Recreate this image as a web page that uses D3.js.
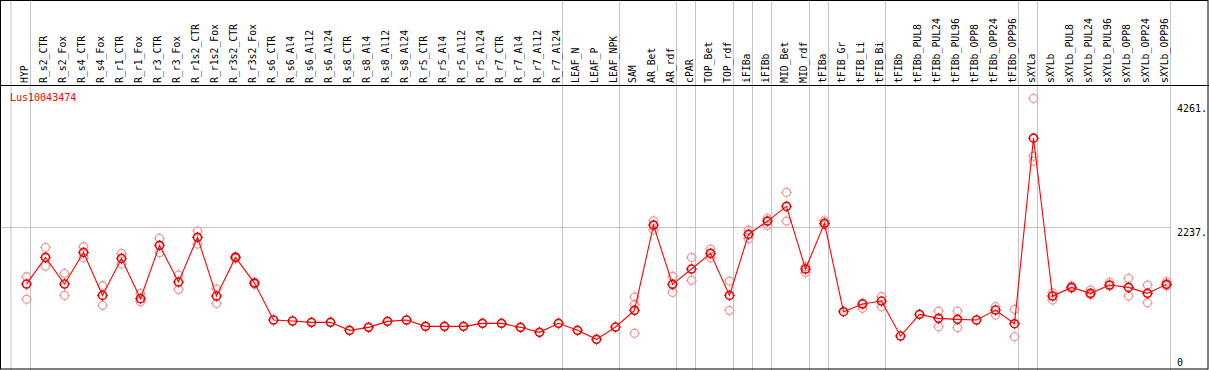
<!DOCTYPE html>
<html><head><meta charset="utf-8">
<script src="https://cdn.jsdelivr.net/npm/d3@7"></script>
<style>html,body{margin:0;padding:0;background:#fff;}svg{display:block;}</style>
</head><body>
<svg id="chart" width="1209" height="370"></svg>
<script>
const categories = ["HYP","R_s2_CTR","R_s2_Fox","R_s4_CTR","R_s4_Fox","R_r1_CTR","R_r1_Fox","R_r3_CTR","R_r3_Fox","R_r1s2_CTR","R_r1s2_Fox","R_r3s2_CTR","R_r3s2_Fox","R_s6_CTR","R_s6_Al4","R_s6_Al12","R_s6_Al24","R_s8_CTR","R_s8_Al4","R_s8_Al12","R_s8_Al24","R_r5_CTR","R_r5_Al4","R_r5_Al12","R_r5_Al24","R_r7_CTR","R_r7_Al4","R_r7_Al12","R_r7_Al24","LEAF_N","LEAF_P","LEAF_NPK","SAM","AR_Bet","AR_rdf","cPAR","TOP_Bet","TOP_rdf","iFIBa","iFIBb","MID_Bet","MID_rdf","tFIBa","tFIB_Gr","tFIB_Li","tFIB_Bi","tFIBb","tFIBb_PUL8","tFIBb_PUL24","tFIBb_PUL96","tFIBb_OPP8","tFIBb_OPP24","tFIBb_OPP96","sXYLa","sXYLb","sXYLb_PUL8","sXYLb_PUL24","sXYLb_PUL96","sXYLb_OPP8","sXYLb_OPP24","sXYLb_OPP96"];
const meanValues = [1331,1764,1331,1845,1147,1748,1093,1959,1364,2089,1136,1764,1347,747,731,709,709,579,628,725,747,644,644,644,693,693,628,547,693,579,433,633,904,2289,1326,1575,1829,1147,2138,2354,2593,1575,2317,882,1006,1055,487,839,774,758,747,909,687,3701,1136,1277,1180,1315,1277,1180,1326];
const rep1 = [1450,1927,1505,1937,1304,1829,1180,2073,1477,2192,1250,1780,1360,null,null,null,null,null,null,null,null,null,null,null,null,null,null,null,null,null,null,null,1120,2359,1456,1764,1899,1380,2208,2398,2820,1612,2359,null,1020,1125,null,null,893,893,null,963,920,4346,1190,1300,1234,1359,1424,1315,1369];
const rep2 = [1083,1623,1147,1758,985,1656,1044,1840,1245,1981,1017,1750,1330,null,null,null,null,null,null,null,null,null,null,null,null,null,null,null,null,null,null,null,1001,2208,1196,1391,1758,904,2067,2284,2354,1521,2290,null,937,963,null,null,638,622,null,828,476,3409,1071,1260,1153,1300,1136,1028,1300];
const rep3 = [null,null,null,null,null,null,null,null,null,null,null,null,null,null,null,null,null,null,null,null,null,null,null,null,null,null,null,null,null,null,null,null,531,null,null,null,null,null,null,null,null,null,null,null,null,null,null,null,null,null,null,null,null,3328,null,null,null,null,null,null,null];
const groupEnds = ["HYP","R_r7_Al24","LEAF_NPK","AR_rdf","cPAR","TOP_rdf","iFIBa","iFIBb","MID_rdf","tFIBa","tFIB_Bi","tFIBb_OPP96","sXYLa","sXYLb_OPP96"];
const tickValues = [4261, 2237, 0];
const tickLabels = ["4261.", "2237.", "0"];
const gridValues = [2237];
const seriesName = "Lus10043474";

const W = 1209, H = 370;
const svg = d3.select("#chart");
const FONT = "'DejaVu Sans Mono', monospace";
const x = d3.scalePoint().domain(categories).range([26.5, 26.5 + 19 * (categories.length - 1)]);
const y = d3.scaleLinear().domain([0, 4261]).range([366, 103.7]);
const headerY = 85.5;
const plotRight = x(categories[categories.length - 1]) + 4;

// horizontal grid
svg.selectAll("line.hgrid").data(gridValues).enter().append("line")
  .attr("x1", 1).attr("x2", plotRight)
  .attr("y1", d => Math.round(y(d)) - 0.5).attr("y2", d => Math.round(y(d)) - 0.5)
  .attr("stroke", "#c4c4c4").attr("stroke-width", 1);

// vertical group lines
const vlines = [x(categories[0]) - 15.5].concat(groupEnds.map(g => x(g) + 4));
svg.selectAll("line.vgrid").data(vlines).enter().append("line")
  .attr("x1", d => d).attr("x2", d => d).attr("y1", 0).attr("y2", H)
  .attr("stroke", "#c4c4c4").attr("stroke-width", 1);

// header line and frame
svg.append("line").attr("x1", 0).attr("x2", W).attr("y1", headerY).attr("y2", headerY)
  .attr("stroke", "#000").attr("stroke-width", 1);
svg.append("rect").attr("x", 0.5).attr("y", 0.5).attr("width", W - 1.5).attr("height", H - 1.5)
  .attr("fill", "none").attr("stroke", "#000").attr("stroke-width", 1);

// column labels
svg.selectAll("text.col").data(categories).enter().append("text")
  .attr("transform", d => `translate(${x(d) + 1},83) rotate(-90)`)
  .attr("font-family", FONT).attr("font-size", "9.8px").attr("fill", "#000")
  .text(d => d);

// series name
svg.append("text").attr("x", 10).attr("y", 101).attr("font-family", FONT)
  .attr("font-size", "10px").attr("fill", "#ff0000").text(seriesName);

// axis labels
svg.selectAll("text.tick").data(tickValues).enter().append("text")
  .attr("x", 1177).attr("y", (d, i) => Math.min(y(d) + 8, 366))
  .attr("font-family", FONT).attr("font-size", "10px").attr("fill", "#000")
  .text((d, i) => tickLabels[i]);

function marker(g, cx, cy, color, sw) {
  g.append("circle").attr("cx", cx).attr("cy", cy).attr("r", 4)
    .attr("fill", "none").attr("stroke", color).attr("stroke-width", sw);
  [[0,-1],[0,1],[-1,0],[1,0]].forEach(([dx, dy]) => {
    g.append("line").attr("x1", cx + dx * 4).attr("y1", cy + dy * 4)
      .attr("x2", cx + dx * 5.5).attr("y2", cy + dy * 5.5)
      .attr("stroke", color).attr("stroke-width", 1);
  });
}

// replicate points
const repG = svg.append("g");
[rep1, rep2, rep3].forEach(arr => {
  arr.forEach((v, i) => {
    if (v != null) marker(repG, x(categories[i]), y(v), "#ee9a9a", 1.3);
  });
});

// line
const line = d3.line().x((d, i) => x(categories[i])).y(d => y(d));
svg.append("path").datum(meanValues).attr("d", line)
  .attr("fill", "none").attr("stroke", "#ff0000").attr("stroke-width", 1.1);

// main points
const mainG = svg.append("g");
meanValues.forEach((v, i) => marker(mainG, x(categories[i]), y(v), "#ee0000", 1.6));
</script>
</body></html>
